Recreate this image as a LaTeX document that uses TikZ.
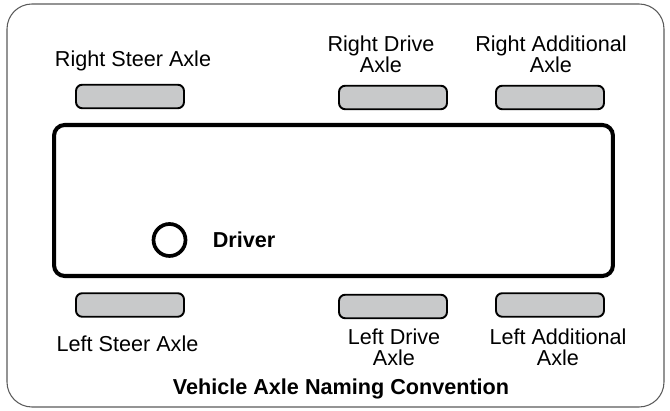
\documentclass[tikz,border=0pt]{standalone}
\usepackage{fontspec}
\setmainfont{Liberation Sans}
\definecolor{axlegray}{HTML}{C8C9CA}
\definecolor{framegray}{HTML}{5A5A5A}

\begin{document}
\begin{tikzpicture}[x=0.02cm, y=-0.02cm, every node/.style={font=\fontsize{12.3}{12}\selectfont}, axle/.style={draw, line width=1.1pt, fill=axlegray, rounded corners=3.5pt, minimum width=2.16cm, minimum height=0.47cm, inner sep=0pt}, axlelabel/.style={align=center, anchor=base, inner sep=0pt}]
	\useasboundingbox (0,0) rectangle (670,411);
	\draw[framegray, line width=0.6pt, rounded corners=0.5cm] (7,4) rectangle (664,407);
	\node[draw, line width=2.3pt, rounded corners=6pt, minimum width=11.18cm, minimum height=3.02cm, inner sep=0pt] (cab) at (333.5,200.5) {};
	\node[circle, draw, line width=2.1pt, minimum size=0.64cm, inner sep=0pt] (seat) at (169.5,240) {};
	\node[axlelabel, font=\fontsize{12.3}{12}\selectfont\bfseries] (driver) at (244,248) {Driver};
	\node[axle] (rsteer) at (130,96.5) {};
	\node[axle] (rdrive) at (393,97.5) {};
	\node[axle] (radd) at (550,97.5) {};
	\node[axle] (lsteer) at (130,305) {};
	\node[axle] (ldrive) at (393,306.5) {};
	\node[axle] (ladd) at (550,305) {};
	% two-line labels sit on the baseline of their last line
	\node[axlelabel] (rsteertext) at (133,67) {Right Steer Axle};
	\node[axlelabel] (rdrivetext) at (381,73) {Right Drive\\Axle};
	\node[axlelabel] (raddtext) at (551,73) {Right Additional\\Axle};
	\node[axlelabel] (lsteertext) at (127.5,352) {Left Steer Axle};
	\node[axlelabel] (ldrivetext) at (394,366) {Left Drive\\Axle};
	\node[axlelabel] (laddtext) at (558,366) {Left Additional\\Axle};
	\node[axlelabel, font=\fontsize{12.3}{12}\selectfont\bfseries] (title) at (341,395) {Vehicle Axle Naming Convention};
\end{tikzpicture}
\end{document}
